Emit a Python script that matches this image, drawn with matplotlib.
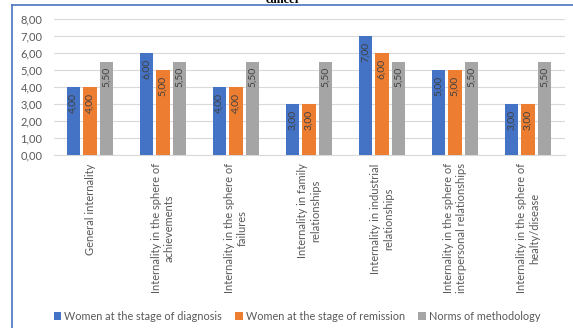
import numpy as np
import matplotlib.pyplot as plt
from matplotlib.lines import Line2D

categories = [
    'General internality',
    'Internality in the sphere of\nachievements',
    'Internality in the sphere of\nfailures',
    'Internality in family\nrelationships',
    'Internality in industrial\nrelationships',
    'Internality in the sphere of\ninterpersonal relationships',
    'Internality in the sphere of\nhealty/disease',
]
diagnosis = [4.0, 6.0, 4.0, 3.0, 7.0, 5.0, 3.0]
remission = [4.0, 5.0, 4.0, 3.0, 6.0, 5.0, 3.0]
norms = [5.5, 5.5, 5.5, 5.5, 5.5, 5.5, 5.5]
series_names = ['Women at the stage of diagnosis',
                'Women at the stage of remission',
                'Norms of methodology']
colors = ['#4472C4', '#ED7D31', '#A5A5A5']

plt.rcParams['font.family'] = ['Lato', 'DejaVu Sans']
grey_txt = '#595959'

fig = plt.figure(figsize=(5.73, 3.28), dpi=100)
ax = fig.add_axes([53.5 / 573, 1 - 155 / 328, 511 / 573, 136 / 328])

x = np.arange(len(categories))
w = 0.18
step = 0.226
for i, (vals, name, c) in enumerate(zip([diagnosis, remission, norms], series_names, colors)):
    bars = ax.bar(x + (i - 1) * step, vals, width=w, color=c, label=name, zorder=3)
    for b, v in zip(bars, vals):
        ax.annotate(f'{v:.2f}'.replace('.', ','),
                    (b.get_x() + b.get_width() / 2, v),
                    xytext=(0, -4), textcoords='offset points',
                    rotation=90, ha='center', va='top',
                    fontsize=7.5, color='#404040', zorder=4)

ax.set_xlim(-0.5, len(categories) - 0.5)
ax.set_ylim(0, 8)
ax.set_yticks(np.arange(0, 9, 1))
ax.set_yticklabels([f'{t:.2f}'.replace('.', ',') for t in np.arange(0, 9, 1)])
ax.yaxis.grid(True, color='#d9d9d9', linewidth=0.8, zorder=0)
for s in ax.spines.values():
    s.set_visible(False)
ax.spines['bottom'].set_visible(True)
ax.spines['bottom'].set_color('#d9d9d9')
ax.tick_params(axis='both', length=0, colors=grey_txt, labelsize=8)
ax.tick_params(axis='y', pad=8)
ax.set_xticks(x)
ax.set_xticklabels(categories, rotation=90, ha='center', va='top',
                   multialignment='center')
ax.tick_params(axis='x', pad=6)

fig.legend(loc='center', bbox_to_anchor=(297 / 573, 1 - 316 / 328), ncol=3,
           frameon=False, fontsize=7.8, handlelength=0.7, handleheight=0.7,
           handletextpad=0.3, columnspacing=1.2, labelcolor=grey_txt)

# frame lines of the chart box
fig.add_artist(Line2D([12 / 573, 12 / 573], [0, 1 - 5 / 328], color='#4a74c0', lw=1.2))
fig.add_artist(Line2D([12 / 573, 1], [1 - 5 / 328, 1 - 5 / 328], color='#4a74c0', lw=1.2))

fig.text(283 / 573, 1 - 3 / 328, 'cancer', ha='center', va='baseline',
         fontsize=9, fontweight='bold', family='Liberation Serif')

fig.savefig('out.png', dpi=100)
